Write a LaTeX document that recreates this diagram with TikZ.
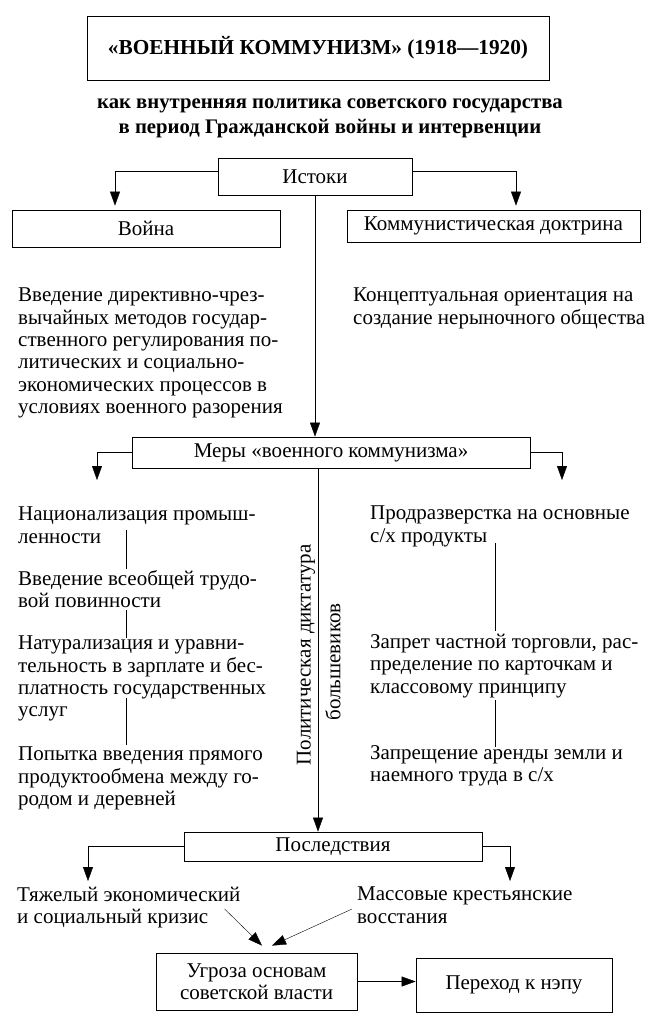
\documentclass[tikz,border=0pt]{standalone}
\usepackage{fontspec}
\setmainfont{Liberation Serif}
\usetikzlibrary{positioning,arrows.meta,calc}

\begin{document}
\begin{tikzpicture}[x=1pt,y=-1pt,
  >={Triangle[width=10pt,length=14pt]},
  box/.style={draw,line width=0.8pt,inner sep=0pt},
  item/.style={anchor=north west,align=left,inner sep=0pt},
  lbl/.style={inner sep=0pt}]

  \fontsize{21}{22.3}\selectfont

  \useasboundingbox (0,0) rectangle (655,1024);

  \newcommand\ColL{18}
  \newcommand\ColR{370}

  \coordinate (cl) at (126,0);
  \coordinate (cr) at (495,0);
  \coordinate (ax) at (318,0);

  %% heading
  \node[box,minimum width=462pt,minimum height=64pt] (title) at (318,48)
    {\bfseries\fontsize{21.3}{24}\selectfont «ВОЕННЫЙ КОММУНИЗМ» (1918—1920)};
  \node[lbl,align=center,font=\bfseries\fontsize{20.7}{25}\selectfont] (sub) at (330,118)
    {как внутренняя политика советского государства\\в период Гражданской войны и интервенции};

  %% sources
  \node[box,minimum width=194pt,minimum height=37pt] (ist) at (315,176.5) {Истоки};
  \node[box,minimum width=268pt,minimum height=37pt] (war) at (146,228.5) {Война};
  \node[box,minimum width=293pt,minimum height=32pt] (doc) at (493.5,226) {Коммунистическая доктрина};

  \draw[->] ([yshift=5.5pt]ist.west) -| ([xshift=-31pt,yshift=4pt]war.north);
  \draw[->] ([yshift=5.5pt]ist.east) -| ([xshift=22.5pt,yshift=4pt]doc.north);

  \node[item] (warT) at (\ColL,288) {Введение директивно-чрез-\\вычайных методов государ-\\ственного регулирования по-\\литических и социально-\\экономических процессов в\\условиях военного разорения};
  \node[item] (docT) at (353,288) {Концептуальная ориентация на\\создание нерыночного общества};

  %% measures
  \node[box,minimum width=398pt,minimum height=31pt] (mer) at (331,452.5) {Меры «военного коммунизма»};
  \draw[->] (ist.south) -- (ist.south |- mer.north);

  \coordinate (mL) at (97,480);
  \coordinate (mR) at (562,480);
  \draw[->] (mer.west) -| (mL);
  \draw[->] (mer.east) -| (mR);

  \node[item] (a1) at (\ColL,507) {Национализация промыш-\\ленности};
  \node[item] (a2) at (\ColL,570) {Введение всеобщей трудо-\\вой повинности};
  \node[item] (a3) at (\ColL,636) {Натурализация и уравни-\\тельность в зарплате и бес-\\платность государственных\\услуг};
  \node[item] (a4) at (\ColL,747) {Попытка введения прямого\\продуктообмена между го-\\родом и деревней};

  \node[item] (b1) at (\ColR,506) {Продразверстка на основные\\с/х продукты};
  \node[item] (b2) at (\ColR,634) {Запрет частной торговли, рас-\\пределение по карточкам и\\классовому принципу};
  \node[item] (b3) at (\ColR,745) {Запрещение аренды земли и\\наемного труда в с/х};

  \draw ($(a1.south -| cl)+(0,-14)$) -- ($(a2.north -| cl)+(0,-1)$);
  \draw ($(a2.south -| cl)+(0,2)$) -- ($(a3.north -| cl)+(0,2)$);
  \draw ($(a3.south -| cl)+(0,-24)$) -- ($(a4.north -| cl)+(0,-2)$);
  \draw ($(b1.south -| cr)+(0,-4)$) -- ($(b2.north -| cr)+(0,-3)$);
  \draw ($(b2.south -| cr)+(0,2)$) -- ($(b3.north -| cr)+(0,2)$);

  \node[lbl,rotate=90] (dict) at (306,655) {Политическая диктатура};
  \node[lbl,rotate=90] (bolsh) at (333,662) {большевиков};

  %% results
  \node[box,minimum width=298pt,minimum height=29pt] (pos) at (333,846.5) {Последствия};
  \draw[->] (mer.south -| ax) -- (pos.north -| ax);

  \coordinate (pL) at (88,881);
  \coordinate (pR) at (510,881);
  \draw[->] (pos.west) -| (pL);
  \draw[->] (pos.east) -| (pR);

  \node[item] (c1) at (17,887) {Тяжелый экономический\\и социальный кризис};
  \node[item] (c2) at (357,887) {Массовые крестьянские\\восстания};

  \node[box,minimum width=201pt,minimum height=57pt,align=center] (thr) at (256.5,981.5) {Угроза основам\\советской власти};
  \node[box,minimum width=196pt,minimum height=54pt] (nep) at (514,985) {Переход к нэпу};

  \draw[->] ($(c1.north east)+(-16,22)$) -- ($(thr.north)+(5.5,-7)$);
  \draw[->] ($(c2.north west)+(-5,22)$) -- ($(thr.north)+(15.5,-7)$);
  \draw[->] (thr.east) -- (thr.east -| nep.west);
\end{tikzpicture}
\end{document}
